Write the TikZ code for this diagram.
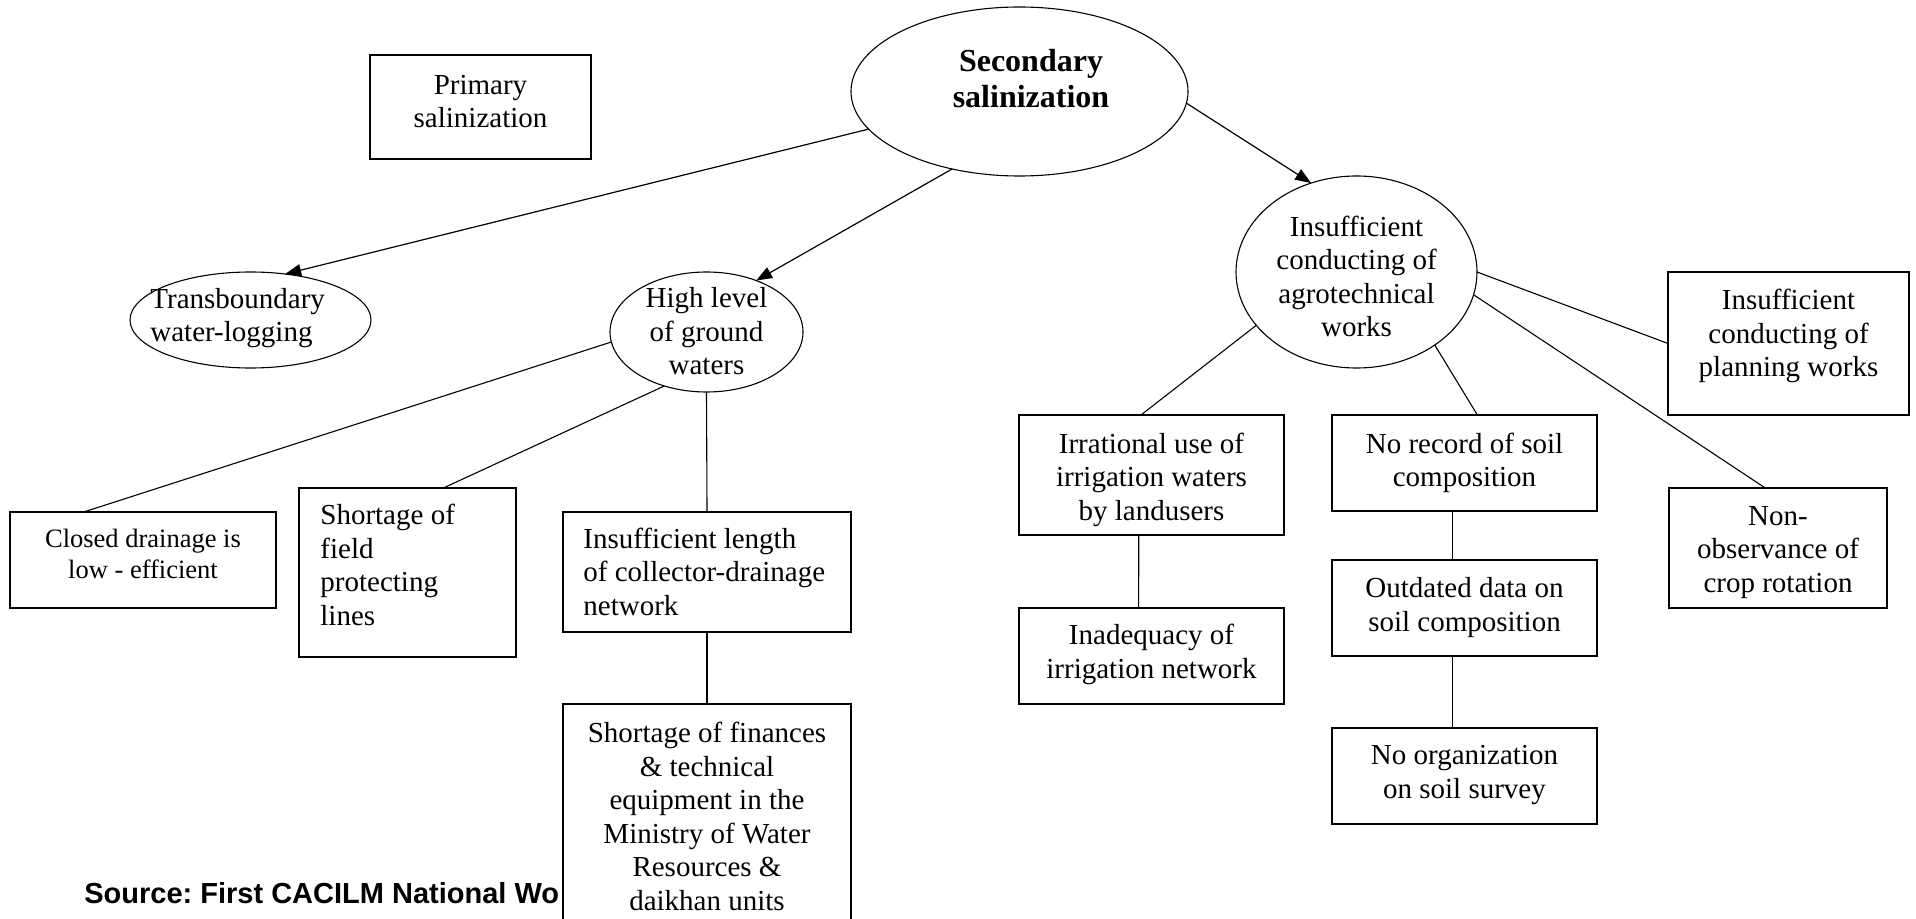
\documentclass[tikz,border=0pt]{standalone}
\usepackage{fontspec}
\setmainfont{Liberation Serif}
\newfontfamily\srcfont{Liberation Sans}
\usetikzlibrary{shapes.geometric,arrows.meta}
\frenchspacing

\tikzset{
  box/.style={draw, rectangle, line width=0.7pt, inner sep=0pt, outer sep=0pt, fill=white},
  oval/.style={draw, ellipse, line width=0.55pt, inner sep=0pt, outer sep=0pt},
  txt/.style={font=\fontsize{14.5}{16.75}\selectfont, align=center, anchor=base, inner sep=0pt},
  txtl/.style={font=\fontsize{14.5}{16.75}\selectfont, align=left, anchor=base west, inner sep=0pt},
  link/.style={line width=0.55pt},
  arr/.style={line width=0.6pt, -{Triangle[length=8pt,width=6pt]}},
}

\begin{document}
\begin{tikzpicture}[x=0.5pt, y=-0.5pt]
  \useasboundingbox (0,0) rectangle (1916,919);
  \clip (0,0) rectangle (1916,919);

  % source line, partly hidden by the last box
  \node[font=\srcfont\bfseries\fontsize{14.5}{16.5}\selectfont, anchor=base west, inner sep=0pt]
    (src) at (84,903) {Source: First CACILM National Wo};

  % shapes
  \node[box, minimum width=110.5pt, minimum height=52pt] (prim) at (480.5,107) {};
  \node[oval, minimum width=168.5pt, minimum height=84.5pt] (sec) at (1019.5,91.5) {};
  \node[oval, minimum width=120.5pt, minimum height=48pt] (tb) at (250.5,320) {};
  \node[oval, minimum width=96.5pt, minimum height=60pt] (hl) at (706.5,332) {};
  \node[oval, minimum width=120.5pt, minimum height=96pt] (agro) at (1356.5,272) {};
  \node[box, minimum width=120.5pt, minimum height=71.5pt] (plan) at (1788.5,343.5) {};
  \node[box, minimum width=132.5pt, minimum height=60pt] (ir) at (1151.5,475) {};
  \node[box, minimum width=132.5pt, minimum height=48pt] (nr) at (1464.5,463) {};
  \node[box, minimum width=109pt, minimum height=60pt] (nonobs) at (1778,548) {};
  \node[box, minimum width=132.5pt, minimum height=48pt] (inad) at (1151.5,656) {};
  \node[box, minimum width=132.5pt, minimum height=48pt] (outd) at (1464.5,608) {};
  \node[box, minimum width=132.5pt, minimum height=48pt] (norg) at (1464.5,776) {};
  \node[box, minimum width=133pt, minimum height=48pt] (cd) at (143,560) {};
  \node[box, minimum width=108.5pt, minimum height=84.5pt] (sf) at (407.5,572.5) {};
  \node[box, minimum width=144pt, minimum height=60pt] (il) at (707,572) {};
  \node[box, minimum width=144pt, minimum height=128pt] (fin) at (707,832) {};

  % texts (anchored at the baseline of their last line)
  \node[txt] (t-prim) at (480.5,128) {Primary\\salinization};
  \node[txt, font=\bfseries\fontsize{16}{18}\selectfont] (t-sec) at (1031,108) {Secondary\\salinization};
  \node[txtl] (t-tb) at (150,342) {Transboundary\\water-logging};
  \node[txt] (t-hl) at (706.5,375) {High level\\of ground\\waters};
  \node[txt] (t-agro) at (1356.5,337) {Insufficient\\conducting of\\agrotechnical\\works};
  \node[txt] (t-plan) at (1788.5,377) {Insufficient\\conducting of\\planning works};
  \node[txt] (t-ir) at (1151.5,520) {Irrational use of\\irrigation waters\\by landusers};
  \node[txt] (t-nr) at (1464.5,487) {No record of soil\\composition};
  \node[txt] (t-nonobs) at (1778,592) {Non-\\observance of\\crop rotation};
  \node[txt] (t-inad) at (1151.5,678) {Inadequacy of\\irrigation network};
  \node[txt] (t-outd) at (1464.5,631) {Outdated data on\\soil composition};
  \node[txt] (t-norg) at (1464.5,798) {No organization\\on soil survey};
  \node[txt, font=\fontsize{13.25}{15.5}\selectfont] (t-cd) at (143,578) {Closed drainage is\\low - efficient};
  \node[txtl] (t-sf) at (320,625) {Shortage of\\field\\protecting\\lines};
  \node[txtl] (t-il) at (583,615) {Insufficient length\\of collector-drainage\\network};
  \node[txt] (t-fin) at (707,910) {Shortage of finances\\\& technical\\equipment in the\\Ministry of Water\\Resources \&\\daikhan units};

  % connectors
  \draw[arr] (sec.194) -- (tb.53);
  \draw[arr] (sec.229) -- (hl.46);
  \draw[arr] (sec.356) -- (agro.117);
  \draw[link] (hl.186) -- (cd.141);
  \draw[link] (hl.232) -- (sf.67);
  \draw[link] (hl.south) -- (il.north);
  \draw[link] (il.south) -- (fin.north);
  \draw[link] (agro.east) -- (plan.west);
  \draw[link] (agro.349) -- (nonobs.102);
  \draw[link] (agro.208) -- (ir.100);
  \draw[link] (agro.317) -- (nr.75);
  \draw[link] (ir.258) -- (inad.105);
  \draw[link] (nr.256) -- (outd.104);
  \draw[link] (outd.256) -- (norg.104);
\end{tikzpicture}
\end{document}
